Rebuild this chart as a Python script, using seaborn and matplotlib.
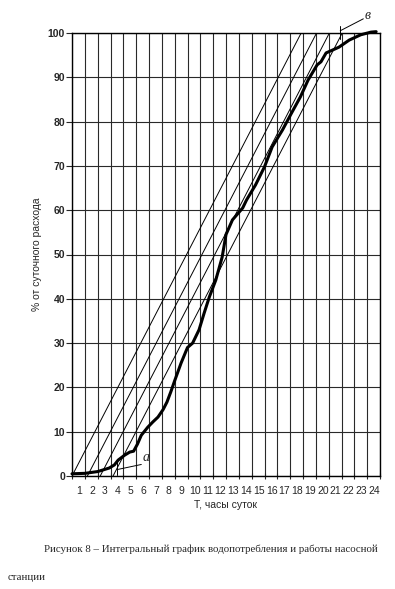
import numpy as np
import pandas as pd
import matplotlib
matplotlib.use("Agg")
import matplotlib.pyplot as plt
import seaborn as sns

# integral consumption curve, % of daily flow vs hour
hours = [0, 1, 2, 2.9, 3.3, 3.6, 4.1, 4.5, 4.8, 5.1, 5.4, 5.9, 6.3, 6.7, 7.1, 7.4,
         7.7, 8.0, 8.5, 9.0, 9.4, 9.9, 10.3, 10.7, 11.2, 11.7, 12.0, 12.5, 13.3,
         13.6, 14.3, 15.0, 15.6, 16.4, 17.1, 17.8, 18.4, 19.1, 19.4, 19.8, 20.8,
         21.6, 22.5, 23.3, 23.7]
percent = [0.5, 0.6, 1.0, 1.8, 2.5, 3.6, 4.7, 5.4, 5.6, 7.2, 9.2, 11.0, 12.2, 13.3,
           15.0, 16.7, 19.0, 21.5, 25.5, 29.0, 30.0, 33.0, 36.8, 40.4, 44.2, 49.4,
           54.5, 57.8, 60.5, 62.3, 65.7, 69.8, 74.3, 78.1, 81.9, 85.6, 89.4, 92.8,
           93.5, 95.5, 96.8, 98.4, 99.6, 100.2, 100.3]

# pump lines (start hour on the time axis, rate in % per hour)
pump_start = [0.0, 1.2, 2.2, 3.2]
pump_rate = 5.6

hour_labels = [str(h) for h in range(1, 25)]
pct_ticks = list(range(0, 101, 10))

curve = pd.DataFrame({"t": hours, "q": percent})

sns.set_style("white")
plt.rcParams['font.family'] = ['Liberation Sans', 'DejaVu Sans']

fig = plt.figure(figsize=(3.95, 5.89), dpi=100)
ax = fig.add_axes([72 / 395, 113 / 589, 308 / 395, 443 / 589])

# grid
ax.set_xlim(0, 24)
ax.set_ylim(0, 100)
ax.set_xticks(range(25))
ax.set_yticks(pct_ticks)
ax.grid(True, color='#2a2a2a', lw=0.8)
ax.set_axisbelow(True)

# thin pump lines
for s in pump_start:
    seg = pd.DataFrame({"t": [s, s + 100 / pump_rate], "q": [0, 100]})
    sns.lineplot(data=seg, x="t", y="q", ax=ax, color='black', lw=0.7)

# thick curve
sns.lineplot(data=curve, x="t", y="q", ax=ax, color='black', lw=2.2,
             sort=False, clip_on=False, zorder=5)

# annotations "а" and "в"
ax.plot([3.5, 3.5], [0.3, 3.2], color='black', lw=0.7)
ax.plot([3.6, 5.4], [1.5, 2.6], color='black', lw=0.7)
ax.text(5.5, 3.3, "а", fontsize=10, style='italic', family='Liberation Serif')
ax.plot([20.9, 20.9], [98.6, 101.6], color='black', lw=0.7, clip_on=False)
ax.plot([20.9, 22.7], [100.5, 103.2], color='black', lw=0.7, clip_on=False)
ax.text(22.8, 103.2, "в", fontsize=10, style='italic', family='Liberation Serif')

for sp in ax.spines.values():
    sp.set_visible(True)
    sp.set_color('black')
    sp.set_linewidth(1.0)

ax.tick_params(axis='x', which='major', direction='inout', length=5, width=0.8,
               labelbottom=False, bottom=True)
ax.set_xticks([h - 0.45 for h in range(1, 25)], minor=True)
ax.set_xticklabels(hour_labels, minor=True, fontsize=7.5)
ax.tick_params(axis='x', which='minor', length=0, pad=7)
ax.tick_params(axis='y', direction='out', length=4, width=0.8, left=True, pad=1)
ax.set_yticklabels([str(v) for v in pct_ticks], fontsize=7.5, fontweight='bold')

ax.set_xlabel("Т, часы суток", fontsize=7.5, labelpad=3)
ax.set_ylabel("% от суточного расхода", fontsize=7.5, labelpad=4)

fig.text(44 / 395, 1 - 549 / 589, "Рисунок 8 – Интегральный график водопотребления и работы насосной",
         fontsize=7.8, family='Liberation Serif', va='center')
fig.text(8 / 395, 1 - 578 / 589, "станции", fontsize=7.8, family='Liberation Serif', va='center')

fig.savefig("out.png", dpi=100)
